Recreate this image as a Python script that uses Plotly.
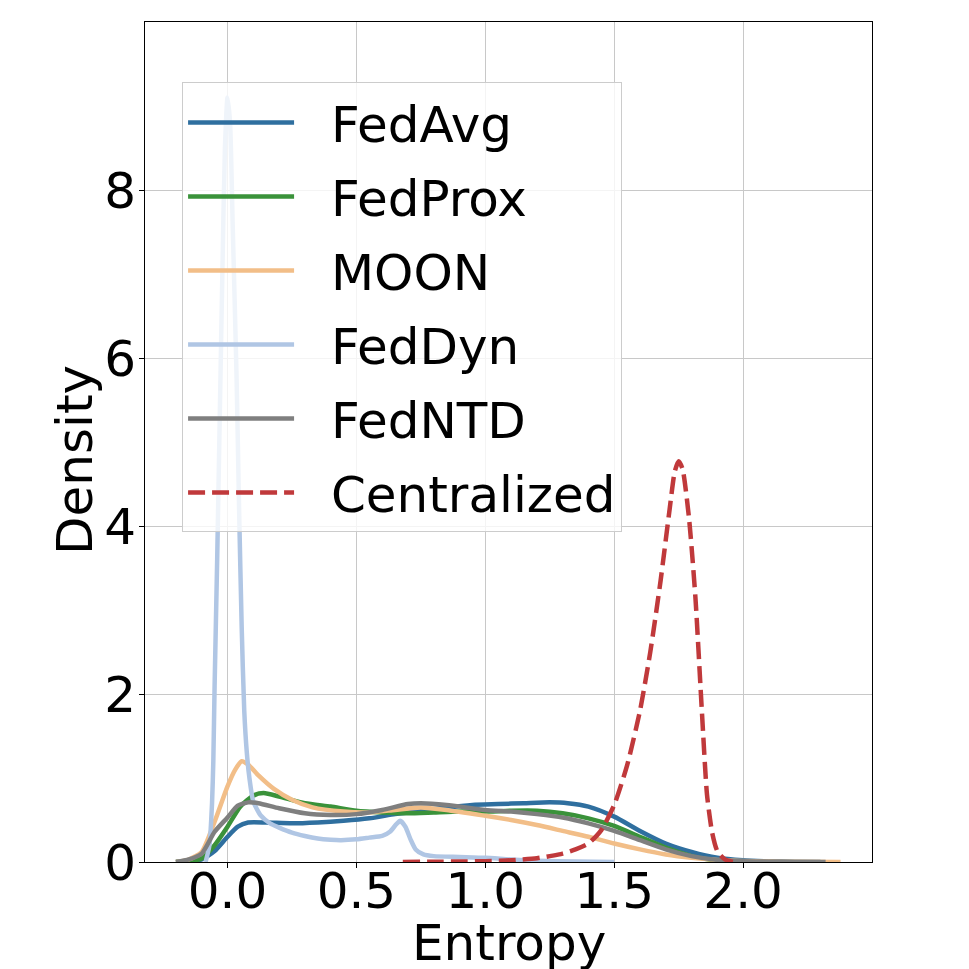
import plotly.graph_objects as go

# density curves (entropy -> density)
fedavg_x = [-0.2, -0.15, -0.1, -0.05, 0.0, 0.04, 0.08, 0.15, 0.25, 0.35, 0.45, 0.55, 0.65, 0.75,
            0.85, 0.95, 1.05, 1.15, 1.25, 1.32, 1.4, 1.5, 1.6, 1.7, 1.8, 1.9, 2.0, 2.1, 2.2, 2.3]
fedavg_y = [0.0, 0.01, 0.03, 0.13, 0.3, 0.42, 0.47, 0.47, 0.46, 0.47, 0.49, 0.52, 0.57, 0.61,
            0.65, 0.68, 0.69, 0.7, 0.71, 0.7, 0.66, 0.54, 0.37, 0.22, 0.12, 0.05, 0.02, 0.008, 0.003, 0.0]

fedprox_x = [-0.2, -0.15, -0.1, -0.05, 0.0, 0.05, 0.1, 0.14, 0.2, 0.3, 0.4, 0.5, 0.6, 0.7, 0.8,
             0.9, 1.0, 1.1, 1.2, 1.3, 1.4, 1.5, 1.6, 1.7, 1.8, 1.9, 1.95]
fedprox_y = [0.0, 0.01, 0.04, 0.2, 0.42, 0.66, 0.79, 0.82, 0.78, 0.7, 0.66, 0.61, 0.59, 0.58, 0.59,
             0.6, 0.6, 0.61, 0.61, 0.58, 0.52, 0.43, 0.3, 0.17, 0.07, 0.015, 0.0]

moon_x = [-0.2, -0.15, -0.1, -0.05, 0.0, 0.03, 0.055, 0.08, 0.12, 0.18, 0.25, 0.33, 0.45, 0.55,
          0.65, 0.75, 0.85, 1.0, 1.1, 1.2, 1.3, 1.4, 1.5, 1.6, 1.7, 1.8, 1.9, 2.0, 2.1, 2.2, 2.378]
moon_y = [0.0, 0.03, 0.12, 0.48, 0.9, 1.1, 1.2, 1.16, 1.03, 0.87, 0.74, 0.65, 0.6, 0.59,
          0.62, 0.65, 0.62, 0.55, 0.5, 0.44, 0.37, 0.3, 0.22, 0.15, 0.09, 0.05, 0.025, 0.012, 0.006, 0.003, 0.0]

feddyn_x = [-0.085, -0.07, -0.06, -0.055, -0.05, -0.04, -0.03, -0.02, -0.01, 0.0, 0.01, 0.02, 0.035,
            0.045, 0.055, 0.065, 0.075, 0.085, 0.1, 0.13, 0.165, 0.2, 0.25, 0.3, 0.35, 0.4, 0.44,
            0.5, 0.55, 0.6, 0.63, 0.655, 0.67, 0.69, 0.71, 0.73, 0.76, 0.8, 0.9, 1.0, 1.1, 1.2, 1.35, 1.5]
feddyn_y = [0.0, 0.2, 0.7, 1.2, 2.1, 3.6, 5.3, 7.0, 8.5, 9.1, 8.8, 7.6, 5.8,
            4.2, 2.8, 1.8, 1.3, 1.0, 0.72, 0.55, 0.46, 0.41, 0.35, 0.31, 0.28, 0.265, 0.26,
            0.27, 0.29, 0.31, 0.36, 0.45, 0.49, 0.42, 0.27, 0.15, 0.09, 0.07, 0.06, 0.05, 0.03, 0.015, 0.005, 0.0]

fedntd_x = [-0.2, -0.15, -0.1, -0.05, 0.0, 0.04, 0.08, 0.12, 0.2, 0.3, 0.4, 0.5, 0.6, 0.7, 0.75,
            0.85, 1.0, 1.1, 1.2, 1.3, 1.4, 1.5, 1.6, 1.7, 1.8, 1.9, 2.0, 2.1, 2.2, 2.32]
fedntd_y = [0.0, 0.03, 0.1, 0.36, 0.53, 0.67, 0.71, 0.7, 0.64, 0.58, 0.56, 0.57, 0.62, 0.69, 0.7,
            0.68, 0.62, 0.6, 0.57, 0.53, 0.46, 0.37, 0.26, 0.15, 0.07, 0.025, 0.01, 0.004, 0.001, 0.0]

central_x = [0.68, 0.8, 0.9, 1.0, 1.1, 1.2, 1.25, 1.3, 1.35, 1.4, 1.45, 1.5, 1.55, 1.6, 1.64, 1.68,
             1.715, 1.735, 1.75, 1.765, 1.79, 1.815, 1.84, 1.86, 1.88, 1.9, 1.93, 1.96]
central_y = [0.0, 0.003, 0.006, 0.01, 0.02, 0.045, 0.07, 0.1, 0.15, 0.22, 0.38, 0.68, 1.15, 1.8, 2.5, 3.35,
             4.2, 4.65, 4.77, 4.68, 4.1, 3.15, 1.8, 0.8, 0.35, 0.13, 0.03, 0.0]

names = ['FedAvg', 'FedProx', 'MOON', 'FedDyn', 'FedNTD', 'Centralized']
colors = ['#2f6f9f', '#3a923a', '#f2be88', '#b0c6e4', '#7f7f7f', '#c0393b']
curves = [(fedavg_x, fedavg_y), (fedprox_x, fedprox_y), (moon_x, moon_y),
          (feddyn_x, feddyn_y), (fedntd_x, fedntd_y), (central_x, central_y)]

font = 'DejaVu Sans, Liberation Sans, sans-serif'
fsize = 50

traces = []
for name, color, (xs, ys) in zip(names, colors, curves):
    # figure space keeps a gap between legend line and label
    traces.append(go.Scatter(x=xs, y=ys, name='\u2007' + name, legendgroup=name, mode='lines',
                             line=dict(color=color, width=4.5,
                                       dash='17px,7px' if name == 'Centralized' else 'solid',
                                       shape='spline', smoothing=0.6)))

fig = go.Figure(data=traces)
# the page has an 8px body margin, so margins are shifted to land the axes where the reference has them
fig.update_layout(
    width=969, height=969,
    margin=dict(l=137, r=105, t=14, b=115),
    paper_bgcolor='white', plot_bgcolor='white',
    font=dict(family=font, size=fsize, color='black'),
    legend=dict(x=0.051, y=0.928, xanchor='left', yanchor='top',
                bgcolor='rgba(255,255,255,0.8)', bordercolor='#cccccc', borderwidth=1,
                font=dict(size=fsize), itemwidth=106, tracegroupgap=6),
    showlegend=True,
    annotations=[
        dict(text='Entropy', xref='paper', yref='paper', x=0.5, y=0, xanchor='center',
             yanchor='middle', yshift=-81, showarrow=False, font=dict(size=fsize)),
        dict(text='Density', xref='paper', yref='paper', x=0, y=0.5, xanchor='center',
             yanchor='middle', xshift=-70, yshift=-18, textangle=-90, showarrow=False,
             font=dict(size=fsize)),
    ],
)
fig.update_xaxes(range=[-0.32, 2.5], tickvals=[0, 0.5, 1.0, 1.5, 2.0], tickformat='.1f',
                 automargin=False, ticklabelstandoff=-20,
                 showgrid=True, gridcolor='#c8c8c8', gridwidth=1, zeroline=False,
                 showline=True, linecolor='black', linewidth=1, mirror=True,
                 ticks='outside', ticklen=5, tickcolor='black')
fig.update_yaxes(range=[0, 10], tickvals=[0, 2, 4, 6, 8],
                 automargin=False, ticklabelstandoff=-7,
                 showgrid=True, gridcolor='#c8c8c8', gridwidth=1, zeroline=False,
                 showline=True, linecolor='black', linewidth=1, mirror=True,
                 ticks='outside', ticklen=5, tickcolor='black')

fig.write_html("out.html")
